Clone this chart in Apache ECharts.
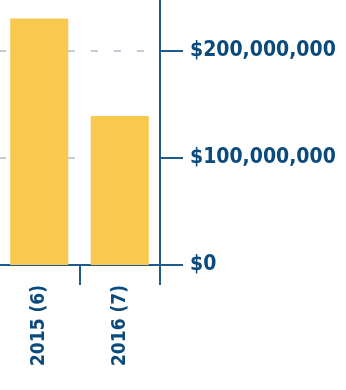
<!DOCTYPE html>
<html><head><meta charset="utf-8">
<script src="https://cdn.jsdelivr.net/npm/echarts@6/dist/echarts.min.js"></script>
<style>html,body{margin:0;padding:0;background:#fff}#c{width:346px;height:390px}</style>
</head><body><div id="c"></div>
<script>
var categories = ['2015 (6)', '2016 (7)'];
var values = [230000000, 139000000];
var yTicks = [0, 100000000, 200000000];

var FONT = '"DejaVu Sans Condensed", "Liberation Sans Narrow", sans-serif';
var AX = '#1d5b8c';
var TXT = '#0b4a7d';
var chart = echarts.init(document.getElementById('c'));
chart.setOption({
  animation: false,
  grid: {left: -1, right: 186, top: -3, bottom: 125, containLabel: false, outerBoundsMode: 'none'},
  xAxis: {
    type: 'category', data: categories,
    axisLine: {lineStyle: {color: AX, width: 2}},
    axisTick: {show: true, length: 20, lineStyle: {color: AX, width: 2}},
    axisLabel: {rotate: 90, margin: 20, color: TXT, fontFamily: FONT, fontWeight: 'bold', fontSize: 19}
  },
  yAxis: {
    type: 'value', position: 'right', min: 0, max: 250000000, interval: 100000000,
    axisLine: {show: true, lineStyle: {color: AX, width: 2}},
    axisTick: {show: true, length: 23, lineStyle: {color: AX, width: 2}},
    axisLabel: {margin: 30, color: TXT, fontFamily: FONT, fontWeight: 'bold', fontSize: 21, showMaxLabel: false,
      formatter: function (v) { return yTicks.indexOf(v) >= 0 ? '$' + v.toLocaleString('en-US') : ''; }},
    splitLine: {show: true, showMaxLine: false, lineStyle: {color: '#c5cad8', width: 2, type: [7, 16]}}
  },
  series: [{
    type: 'bar', data: values, barWidth: 58,
    itemStyle: {color: '#f9c84e'}
  }]
});
</script></body></html>
